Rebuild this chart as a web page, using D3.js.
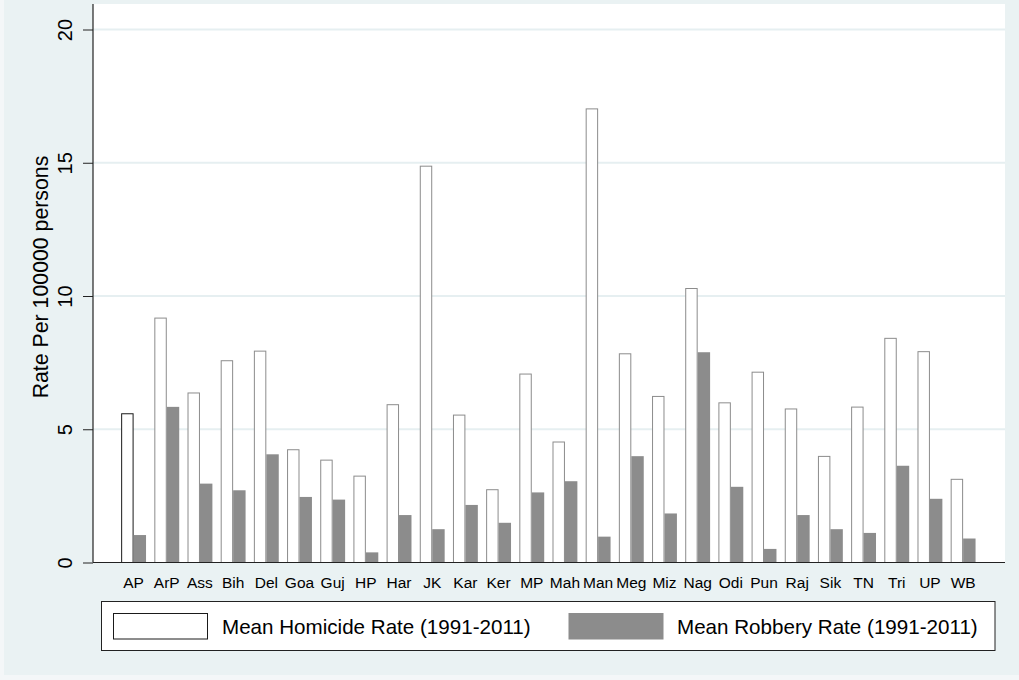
<!DOCTYPE html>
<html>
<head>
<meta charset="utf-8">
<script src="https://cdn.jsdelivr.net/npm/d3@7"></script>
<style>
  html, body { margin: 0; padding: 0; background: #f4f7f8; }
  svg { display: block; font-family: "Liberation Sans", Arial, sans-serif; }
</style>
</head>
<body>
<svg id="chart" width="1019" height="680"></svg>
<script>
// State abbreviations
const states = ["AP","ArP","Ass","Bih","Del","Goa","Guj","HP","Har","JK","Kar","Ker","MP",
                "Mah","Man","Meg","Miz","Nag","Odi","Pun","Raj","Sik","TN","Tri","UP","WB"];

// Mean homicide rate per 100000 persons, 1991-2011
const homicide = [5.60, 9.19, 6.38, 7.59, 7.95, 4.25, 3.86, 3.26, 5.94, 14.89, 5.55, 2.75, 7.09,
                  4.54, 17.04, 7.85, 6.25, 10.30, 6.01, 7.16, 5.78, 4.00, 5.85, 8.43, 7.93, 3.14];

// Mean robbery rate per 100000 persons, 1991-2011
const robbery = [1.03, 5.84, 2.96, 2.71, 4.06, 2.46, 2.36, 0.38, 1.78, 1.25, 2.16, 1.49, 2.63,
                 3.05, 0.97, 3.99, 1.84, 7.89, 2.84, 0.51, 1.78, 1.25, 1.11, 3.63, 2.39, 0.90];

const yTicks = [0, 5, 10, 15, 20];
const seriesNames = ["Mean Homicide Rate (1991-2011)", "Mean Robbery Rate (1991-2011)"];
const seriesKeys = ["homicide", "robbery"];

const rows = states.map((s, i) => ({ state: s, homicide: homicide[i], robbery: robbery[i] }));

const svg = d3.select("#chart");
const W = 1019, H = 680;

// graph region
svg.append("rect").attr("x", 4).attr("y", 0).attr("width", W - 4).attr("height", 675)
  .attr("fill", "#eaf2f3");

// plot region
const plot = { left: 93, right: 1005, top: 4, bottom: 562.5 };
svg.append("rect").attr("x", plot.left).attr("y", plot.top)
  .attr("width", plot.right - plot.left).attr("height", plot.bottom - plot.top)
  .attr("fill", "#ffffff");

const y = d3.scaleLinear().domain([0, 20]).range([plot.bottom, 29.5]);

const x = d3.scaleBand().domain(states).range([117, 979.7])
  .paddingInner(0.25).paddingOuter(0.125);
const xs = d3.scaleBand().domain(seriesKeys).range([0, x.bandwidth()]);

// gridlines
svg.append("g").selectAll("line").data(yTicks.filter(t => t > 0)).join("line")
  .attr("x1", plot.left).attr("x2", plot.right)
  .attr("y1", d => y(d)).attr("y2", d => y(d))
  .attr("stroke", "#e6eff1").attr("stroke-width", 2);

// bars
const groups = svg.append("g").selectAll("g").data(rows).join("g")
  .attr("transform", d => `translate(${x(d.state)},0)`);

groups.append("rect")
  .attr("x", xs("homicide") + 0.5)
  .attr("y", d => y(d.homicide) + 0.5)
  .attr("width", xs.bandwidth() - 1)
  .attr("height", d => y(0) - y(d.homicide) - 0.5)
  .attr("fill", "#ffffff")
  .attr("stroke", (d, i) => i === 0 ? "#1a1a1a" : "#8c8c8c")
  .attr("stroke-width", 1);

groups.append("rect")
  .attr("x", xs("robbery"))
  .attr("y", d => y(d.robbery))
  .attr("width", xs.bandwidth())
  .attr("height", d => y(0) - y(d.robbery))
  .attr("fill", "#8c8c8c");

// y axis
const yAxis = svg.append("g").attr("transform", `translate(${plot.left},0)`)
  .call(d3.axisLeft(y).tickValues(yTicks).tickSize(10).tickPadding(0).tickFormat(d3.format("d")));
yAxis.select(".domain").remove();
yAxis.selectAll(".tick line").attr("stroke", "#222").attr("stroke-width", 1);
yAxis.selectAll(".tick text")
  .attr("font-size", 20).attr("fill", "#000")
  .attr("text-anchor", "middle")
  .attr("x", null).attr("dy", null)
  .attr("transform", "translate(-21,0) rotate(-90)");

svg.append("line").attr("x1", plot.left).attr("x2", plot.left)
  .attr("y1", plot.top).attr("y2", plot.bottom)
  .attr("stroke", "#222").attr("stroke-width", 1.2);

// x axis
const xAxis = svg.append("g").attr("transform", `translate(0,${plot.bottom})`)
  .call(d3.axisBottom(x).tickSize(0).tickPadding(0));
xAxis.select(".domain").remove();
xAxis.selectAll(".tick text")
  .attr("font-size", 15.5).attr("fill", "#000")
  .attr("y", 25.5).attr("dy", null);

svg.append("line").attr("x1", plot.left).attr("x2", plot.right)
  .attr("y1", plot.bottom).attr("y2", plot.bottom)
  .attr("stroke", "#222").attr("stroke-width", 1.2);

// y axis title
svg.append("text")
  .attr("transform", `translate(48,277) rotate(-90)`)
  .attr("text-anchor", "middle")
  .attr("font-size", 21.3).attr("fill", "#000")
  .text("Rate Per 100000 persons");

// legend
const legend = svg.append("g");
legend.append("rect").attr("x", 101.5).attr("y", 601.5).attr("width", 893.5).attr("height", 49)
  .attr("fill", "#ffffff").attr("stroke", "#222").attr("stroke-width", 1);

const legendItems = [
  { name: seriesNames[0], sx: 113.5, tx: 222, fill: "#ffffff", stroke: "#1a1a1a" },
  { name: seriesNames[1], sx: 569, tx: 677, fill: "#8c8c8c", stroke: "#8c8c8c" }
];
const li = legend.selectAll("g").data(legendItems).join("g");
li.append("rect")
  .attr("x", d => d.sx).attr("y", 613.5).attr("width", 94).attr("height", 25.5)
  .attr("fill", d => d.fill).attr("stroke", d => d.stroke).attr("stroke-width", 1);
li.append("text")
  .attr("x", d => d.tx).attr("y", 633.5)
  .attr("font-size", 20.6).attr("fill", "#000")
  .text(d => d.name);
</script>
</body>
</html>
